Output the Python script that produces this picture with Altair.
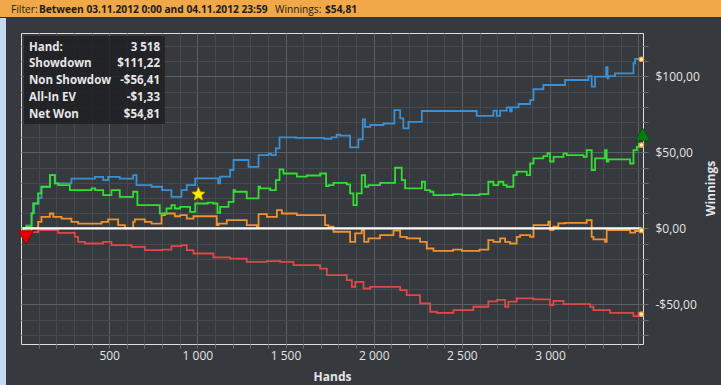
import altair as alt
import pandas as pd

FONT = "Open Sans"

# ---------------- data ----------------
showdown_hands = [8, 30, 60, 75, 100, 116, 164, 192, 286, 419, 466, 494, 560, 636, 655, 740, 800, 853, 910, 940,
                  988, 1118, 1129, 1186, 1205, 1290, 1347, 1403, 1420, 1445, 1466, 1560, 1720, 1760, 1790, 1810,
                  1866, 1913, 1938, 1951, 1980, 2055, 2117, 2150, 2168, 2197, 2273, 2584, 2679, 2698, 2717, 2754,
                  2773, 2783, 2821, 2887, 2906, 2962, 3085, 3218, 3236, 3255, 3318, 3326, 3331, 3368, 3473, 3482,
                  3518]
showdown_vals = [0, 2, 10, 16.4, 20, 27.4, 35, 29.6, 32.8, 33.9, 31.7, 33.9, 32.8, 35, 28.5, 27.4, 25.2, 20.8, 25.2,
                 28.5, 32.9, 29.6, 34, 38.4, 45, 40.5, 48.2, 49, 48.2, 52.6, 59.9, 59.5, 58.9, 59.9, 61.6, 61,
                 53.3, 58.5, 71.7, 66.8, 68, 69, 77.8, 72.4, 65.8, 70.1, 77.2, 74, 77.5, 74, 77.4, 79.6,
                 77, 79.6, 81.8, 84.4, 91.5, 94.3, 97.6, 100.2, 93.2, 99.8, 106, 98.7, 100.2, 102, 108.6, 111.4,
                 111.22]

net_hands = [8, 30, 60, 69, 97, 116, 164, 192, 211, 277, 400, 420, 466, 513, 560, 636, 660, 787, 825, 853, 872,
             902, 959, 988, 1060, 1090, 1114, 1129, 1177, 1205, 1214, 1280, 1347, 1356, 1413, 1445, 1466, 1488,
             1564, 1620, 1696, 1730, 1745, 1772, 1847, 1866, 1885, 1904, 1932, 1951, 1970, 2036, 2121, 2159,
             2178, 2273, 2291, 2320, 2339, 2450, 2500, 2600, 2650, 2679, 2707, 2735, 2754, 2792, 2811, 2868,
             2887, 2906, 2962, 2985, 3000, 3020, 3076, 3095, 3190, 3208, 3236, 3255, 3312, 3321, 3331, 3454,
             3473, 3492, 3505, 3518]
net_vals = [0, 1, 9.8, 16.4, 23, 27.4, 35, 29.6, 28.5, 25.2, 26.3, 25.2, 21.9, 25.2, 20.8, 24.1, 15.3, 9.8, 13.1,
            15.3, 13.1, 14.2, 10.9, 16.4, 17, 16.4, 10.3, 14.2, 17.5, 25.2, 24.1, 19.7, 27.4, 26.3, 25.2, 31.7,
            38.8, 36.1, 34, 34.8, 36.1, 27.8, 28.5, 30, 29, 23, 15.3, 23, 35.1, 27.4, 28.5, 30, 39.9, 31.8,
            26.3, 30.7, 25.2, 24.1, 21.9, 22.5, 21.9, 22.5, 30.7, 28.5, 30.7, 28.5, 27.4, 35, 37.3, 35,
            42.7, 46, 47.5, 49.5, 44, 47, 49.3, 48.2, 47, 51.5, 38.4, 46, 51.5, 44, 45.4, 42.7,
            51.5, 53.7, 55.5, 54.81]

allin_hands = [8, 12, 60, 97, 116, 164, 183, 230, 286, 324, 457, 494, 551, 589, 636, 645, 702, 740, 797, 816, 872,
               902, 940, 978, 1110, 1120, 1167, 1280, 1337, 1347, 1394, 1451, 1479, 1564, 1724, 1743, 1772, 1866,
               1895, 1932, 1946, 1970, 2036, 2112, 2150, 2187, 2263, 2301, 2339, 2450, 2500, 2600, 2650, 2679,
               2717, 2745, 2773, 2811, 2830, 2887, 2906, 2990, 3000, 3019, 3047, 3085, 3208, 3236, 3246, 3312,
               3321, 3454, 3482, 3518]
allin_vals = [0, -1.5, 0, 4.3, 7.6, 9.8, 7.6, 6.5, 4.3, 3.2, 4.3, 5.9, 2.2, 0, 4.3, 5.9, 4.3, 3.2, 8.7, 9.8, 8,
              8.7, 6.5, 8, 2.2, 3.2, 5.4, 2.2, 1.1, 9.4, 7.6, 12, 9.8, 8.7, 2.2, 1.1, -2.2, -8.8,
              -3.3, -1.1, -8.8, -6.6, -4.4, -1.5, -5.5, -6.6, -8.8, -13.2, -14.7, -14, -14.7, -14, -7.7, -8.8,
              -6.6, -8.8, -9.9, -5.5, -4.4, -5.5, 2.2, 4.4, -1.1, 1.1, 3.3, 3.7, 5.5, -5.5, -7.2, -8.8,
              -1.1, -2.8, -1.7, -1.33]

nonsd_hands = [8, 25, 97, 211, 305, 324, 362, 466, 513, 627, 702, 800, 853, 910, 940, 978, 1091, 1186, 1280, 1394,
               1470, 1545, 1696, 1734, 1847, 1876, 1895, 1942, 1980, 2150, 2187, 2263, 2320, 2358, 2452, 2565,
               2650, 2700, 2745, 2764, 2811, 2906, 3000, 3019, 3076, 3227, 3246, 3340, 3473, 3501, 3510, 3518]
nonsd_vals = [0, -2.5, -1.1, -2.9, -5.5, -8.8, -9.9, -8.8, -11, -12.1, -14.3, -13.9, -11.7, -11, -14.3, -16.5,
              -19.1, -19.8, -22, -21.5, -22, -24.2, -26.4, -30.7, -34, -38.4, -35.1, -39.5, -38.4, -40.6, -43.9,
              -49.3, -54.8, -55.5, -53.7, -51.5, -48, -47, -51.5, -48.2, -46, -46.7, -50.4, -47.6, -49.8, -51.5,
              -53.7, -55.5, -57.7, -55.5, -57, -56.41]

summary_labels = ["Hand:", "Showdown", "Non Showdown", "All-In EV", "Net Won"]
summary_values = ["3 518", "$111,22", "-$56,41", "-$1,33", "$54,81"]

marker_hands = [28, 3525, 1006]
marker_vals = [-6, 61.8, 22.4]

header_parts = ["Filter:", "Between 03.11.2012 0:00 and 04.11.2012 23:59", "Winnings:", "$54,81"]
header_weights = ["normal", "bold", "normal", "bold"]
header_x = [-10, 18, 254, 304]

x_ticks = list(range(100, 3501, 100))
y_ticks = list(range(-70, 121, 10))

# ---------------- styling ----------------
BG = "#36393d"
W, H = 622, 311
XDOM = [0, 3527]
YDOM = [-76, 128.5]
STAR = ("M0,-1L0.27,-0.37L0.951,-0.309L0.437,0.142L0.588,0.809L0,0.46L-0.588,0.809"
        "L-0.437,0.142L-0.951,-0.309L-0.27,-0.37Z")

x_axis = alt.Axis(
    values=x_ticks, orient="bottom", domain=False, tickSize=4, tickColor="#6a6d71",
    labelExpr="datum.value % 500 === 0 && datum.value < 3500 ? replace(format(datum.value, ','), ',', ' ') : ''",
    labelColor="#e4e4e4", labelFontSize=12, labelPadding=2, labelOverlap=False, labelFlush=False,
    grid=True, gridColor={"condition": {"test": "datum.value % 500 === 0", "value": "#5c5f63"}, "value": "#46494d"},
    title="Hands", titleColor="#e4e4e4", titleFontSize=12, titleFontWeight="bold",
    titleBaseline="top", titleY=27,
)
y_axis = alt.Axis(
    values=y_ticks, orient="right", domain=False, tickSize=5, tickColor="#6a6d71",
    labelExpr="datum.value % 50 === 0 ? (datum.value < 0 ? '-$' : '$') + replace(format(abs(datum.value), '.2f'), '.', ',') : ''",
    labelColor="#e4e4e4", labelFontSize=12, labelPadding=7, labelOverlap=False, labelFlush=False,
    grid=True, gridColor={"condition": {"test": "datum.value % 50 === 0", "value": "#5c5f63"}, "value": "#46494d"},
    title="Winnings", titleColor="#e4e4e4", titleFontSize=12, titleFontWeight="bold",
    titleAngle=270, titleAlign="center", titleBaseline="middle", titleX=67, titleY=155,
)


def X(field, with_axis=False):
    return alt.X(field, type="quantitative", scale=alt.Scale(domain=XDOM, nice=False, zero=False),
                 axis=x_axis if with_axis else None)


def Y(field, with_axis=False):
    return alt.Y(field, type="quantitative", scale=alt.Scale(domain=YDOM, nice=False, zero=False),
                 axis=y_axis if with_axis else None)


def series_layer(hands, vals, color, with_axis=False):
    df = pd.DataFrame({"hand": hands, "val": vals})
    return alt.Chart(df).mark_line(color=color, strokeWidth=1.8, interpolate="step-after").encode(
        x=X("hand", with_axis), y=Y("val", with_axis))


one = pd.DataFrame({"k": [0]})

header_bar = alt.Chart(one).mark_rect(color="#f0a848").encode(
    x=alt.value(-21), x2=alt.value(700), y=alt.value(-33), y2=alt.value(-16))
header_line = alt.Chart(one).mark_rect(color="#2b2d30").encode(
    x=alt.value(-21), x2=alt.value(700), y=alt.value(-16), y2=alt.value(-15))
left_strip = alt.Chart(one).mark_rect(color="#c4daf0").encode(
    x=alt.value(-21), x2=alt.value(-15), y=alt.value(-15), y2=alt.value(352))

layers = [
    series_layer(nonsd_hands, nonsd_vals, "#e04848", with_axis=True),
    header_bar, header_line, left_strip,
]

for txt, wt, hx in zip(header_parts, header_weights, header_x):
    layers.append(alt.Chart(pd.DataFrame({"t": [txt]})).mark_text(
        align="left", baseline="middle", font=FONT, fontSize=10.2, fontWeight=wt, color="#1c1c1c"
    ).encode(text="t:N", x=alt.value(hx), y=alt.value(-23)))

layers += [
    series_layer(allin_hands, allin_vals, "#f0922e"),
    series_layer(showdown_hands, showdown_vals, "#3a90d2"),
    series_layer(net_hands, net_vals, "#33dd33"),
]

zero_df = pd.DataFrame({"h0": [showdown_hands[0]], "h1": [showdown_hands[-1]], "v": [0]})
layers.append(alt.Chart(zero_df).mark_rule(color="#ffffff", strokeWidth=2.2).encode(
    x=X("h0"), x2="h1", y=Y("v")))

end_df = pd.DataFrame({
    "hand": [showdown_hands[-1], net_hands[-1], allin_hands[-1], nonsd_hands[-1]],
    "val": [showdown_vals[-1], net_vals[-1], allin_vals[-1], nonsd_vals[-1]],
})
layers.append(alt.Chart(end_df).mark_point(
    filled=True, shape="circle", size=20, fill="#fff2dc", stroke="#f4a236", strokeWidth=1.2, opacity=1
).encode(x=X("hand"), y=Y("val")))

marker_shapes = ["triangle-down", "triangle-up", STAR]
marker_fills = ["#e00000", "#0a7a0a", "#ffee00"]
marker_strokes = ["#900000", "#064d06", "#d8b000"]
marker_sizes = [240, 220, 190]
for i in range(len(marker_hands)):
    d = pd.DataFrame({"hand": [marker_hands[i]], "val": [marker_vals[i]]})
    layers.append(alt.Chart(d).mark_point(
        filled=True, shape=marker_shapes[i], size=marker_sizes[i], fill=marker_fills[i],
        stroke=marker_strokes[i], strokeWidth=0.8, opacity=1
    ).encode(x=X("hand"), y=Y("val")))

# summary box
layers.append(alt.Chart(one).mark_rect(color="#1e1f21", opacity=0.82).encode(
    x=alt.value(3), x2=alt.value(144), y=alt.value(3), y2=alt.value(91)))
for i, (lab, val) in enumerate(zip(summary_labels, summary_values)):
    d = pd.DataFrame({"lab": [lab], "val": [val]})
    layers.append(alt.Chart(d).mark_text(
        align="left", baseline="middle", font=FONT, fontSize=11.5, fontWeight="bold", color="#e6e6e6",
        limit=88, ellipsis=" "
    ).encode(text="lab:N", x=alt.value(8), y=alt.value(14.5 + 16.9 * i)))
    layers.append(alt.Chart(d).mark_text(
        align="right", baseline="middle", font=FONT, fontSize=11.5, fontWeight="bold", color="#e6e6e6"
    ).encode(text="val:N", x=alt.value(139), y=alt.value(14.5 + 16.9 * i)))

chart = alt.layer(*layers).resolve_axis(x="independent", y="independent").properties(
    width=W, height=H,
    autosize=alt.AutoSizeParams(type="none"),
    padding={"left": 21, "top": 33, "right": 78, "bottom": 41},
    background=BG,
).configure_view(stroke="#5c5f63", strokeWidth=1).configure(font=FONT)

chart.save("out.html", embed_options={"renderer": "svg", "actions": False})
